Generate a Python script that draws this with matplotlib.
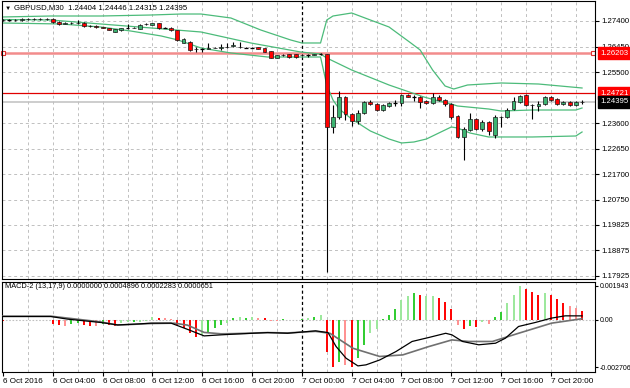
import numpy as np
import matplotlib.pyplot as plt

plt.rcParams['font.family'] = ['Liberation Sans', 'DejaVu Sans']

# GBPUSD M30, 6-7 Oct 2016 (bar 0 = 6 Oct 00:00)
opens = [1.27437, 1.27426, 1.27426, 1.27437, 1.27456, 1.27474, 1.27482, 1.27474, 1.27463, 1.27363,
         1.27289, 1.27326, 1.27318, 1.27344, 1.27214, 1.27203, 1.27177, 1.27140, 1.27009, 1.27047,
         1.27158, 1.27140, 1.27103, 1.27270, 1.27251, 1.27307, 1.27140, 1.27158, 1.27047, 1.26600,
         1.26637, 1.26340, 1.26340, 1.26358, 1.26396, 1.26414, 1.26433, 1.26470, 1.26433, 1.26414,
         1.26414, 1.26433, 1.26377, 1.26284, 1.26024, 1.26117, 1.26154, 1.26154, 1.26117, 1.26135,
         1.26135, 1.26154, 1.26161, 1.23457, 1.23829, 1.24573, 1.23940, 1.23680, 1.23978, 1.24387,
         1.24312, 1.24089, 1.24238, 1.24350, 1.24350, 1.24647, 1.24573, 1.24573, 1.24424, 1.24350,
         1.24573, 1.24461, 1.24312, 1.23866, 1.23085, 1.23345, 1.23754, 1.23382, 1.23643, 1.23159,
         1.23829, 1.23829, 1.24126, 1.24387, 1.24647, 1.24275, 1.24238, 1.24312, 1.24573, 1.24498,
         1.24312, 1.24387, 1.24275, 1.24404]
highs = [1.27474, 1.27456, 1.27474, 1.27512, 1.27512, 1.27530, 1.27512, 1.27512, 1.27493, 1.27400,
         1.27363, 1.27363, 1.27437, 1.27363, 1.27251, 1.27233, 1.27195, 1.27158, 1.27103, 1.27140,
         1.27289, 1.27177, 1.27270, 1.27344, 1.27326, 1.27344, 1.27177, 1.27195, 1.27065, 1.26749,
         1.26656, 1.26451, 1.26396, 1.26582, 1.26433, 1.26526, 1.26563, 1.26619, 1.26637, 1.26451,
         1.26451, 1.26451, 1.26396, 1.26302, 1.26135, 1.26154, 1.26172, 1.26172, 1.26154, 1.26172,
         1.26172, 1.26191, 1.26172, 1.24275, 1.24796, 1.24610, 1.23978, 1.24089, 1.24424, 1.24461,
         1.24350, 1.24312, 1.24387, 1.24461, 1.24684, 1.24684, 1.24647, 1.24610, 1.24461, 1.24722,
         1.24647, 1.24498, 1.24350, 1.23903, 1.23457, 1.23978, 1.23792, 1.23717, 1.23680, 1.23903,
         1.23866, 1.24164, 1.24573, 1.24647, 1.24684, 1.24312, 1.24424, 1.24610, 1.24610, 1.24536,
         1.24424, 1.24424, 1.24424, 1.24446]
lows = [1.27400, 1.27400, 1.27400, 1.27400, 1.27437, 1.27437, 1.27437, 1.27437, 1.27326, 1.27251,
        1.27270, 1.27289, 1.27289, 1.27195, 1.27177, 1.27158, 1.27121, 1.27047, 1.26991, 1.27028,
        1.27103, 1.27121, 1.27084, 1.27233, 1.27233, 1.27103, 1.27121, 1.27028, 1.26656, 1.26582,
        1.26302, 1.26265, 1.26265, 1.26340, 1.26377, 1.26321, 1.26396, 1.26451, 1.26414, 1.26396,
        1.26396, 1.26340, 1.26247, 1.26005, 1.26005, 1.26098, 1.26042, 1.26042, 1.26098, 1.26079,
        1.26117, 1.26135, 1.18063, 1.23234, 1.23754, 1.23717, 1.23494, 1.23568, 1.23940, 1.24275,
        1.24052, 1.24052, 1.24201, 1.24238, 1.24238, 1.24573, 1.24424, 1.24164, 1.24312, 1.24312,
        1.24424, 1.24238, 1.23754, 1.23048, 1.22229, 1.23308, 1.23345, 1.23308, 1.23159, 1.23048,
        1.23457, 1.23792, 1.24089, 1.24350, 1.24238, 1.23754, 1.24052, 1.24275, 1.24424, 1.24275,
        1.24290, 1.24238, 1.24238, 1.24315]
closes = [1.27426, 1.27426, 1.27437, 1.27456, 1.27474, 1.27482, 1.27474, 1.27463, 1.27363, 1.27289,
          1.27326, 1.27318, 1.27344, 1.27214, 1.27203, 1.27177, 1.27140, 1.27065, 1.27084, 1.27121,
          1.27158, 1.27158, 1.27233, 1.27289, 1.27307, 1.27140, 1.27147, 1.27047, 1.26675, 1.26712,
          1.26321, 1.26358, 1.26340, 1.26396, 1.26414, 1.26433, 1.26451, 1.26507, 1.26451, 1.26414,
          1.26414, 1.26358, 1.26265, 1.26024, 1.26117, 1.26135, 1.26061, 1.26061, 1.26135, 1.26135,
          1.26154, 1.26161, 1.23457, 1.23829, 1.24573, 1.23940, 1.23680, 1.23978, 1.24387, 1.24312,
          1.24089, 1.24275, 1.24350, 1.24350, 1.24647, 1.24573, 1.24573, 1.24387, 1.24350, 1.24573,
          1.24461, 1.24312, 1.23829, 1.23085, 1.23382, 1.23754, 1.23382, 1.23643, 1.23308, 1.23829,
          1.23840, 1.24089, 1.24424, 1.24610, 1.24275, 1.24290, 1.24312, 1.24573, 1.24461, 1.24312,
          1.24387, 1.24275, 1.24387, 1.24395]

# Bollinger bands, read at sample bars
upper_bar = [-0.2, 7.7, 15.7, 23.8, 28.6, 31.8, 36.6, 41.4, 46.2, 48, 51, 52, 53, 56, 62, 65.5, 67,
             69, 71, 72.4, 74.6, 80, 86, 93]
upper_val = [1.27549, 1.27586, 1.27586, 1.27623, 1.27660, 1.27660, 1.27512, 1.27065, 1.26694,
             1.26582, 1.26582, 1.27437, 1.27586, 1.27698, 1.27177, 1.26582, 1.26321, 1.25577,
             1.24982, 1.24870, 1.25019, 1.25094, 1.25056, 1.24908]
mid_bar = [-0.2, 7.7, 15.7, 23.8, 31.8, 39.8, 47.8, 51, 52, 56, 62, 67.6, 70, 72, 73, 78, 80, 85, 92, 93]
mid_val = [1.27456, 1.27437, 1.27289, 1.27140, 1.26991, 1.26582, 1.26247, 1.26172, 1.26024, 1.25577,
           1.25019, 1.24573, 1.24424, 1.24312, 1.24238, 1.24126, 1.24052, 1.24089, 1.24089, 1.24164]
lower_bar = [-0.2, 9.3, 15.7, 20.5, 25.4, 28.1, 31.8, 36.6, 42.5, 51, 52, 53, 54, 56, 59, 62, 64, 66,
             68, 70, 72, 73, 75, 78, 85, 92, 93]
lower_val = [1.27326, 1.27289, 1.27177, 1.27028, 1.26843, 1.26694, 1.26396, 1.26210, 1.26061,
             1.26061, 1.25019, 1.24461, 1.24126, 1.23754, 1.23308, 1.23010, 1.22862, 1.22899,
             1.23010, 1.23234, 1.23457, 1.23420, 1.23234, 1.23085, 1.23085, 1.23122, 1.23271]

alert_level = 1.26203
hline_level = 1.24721
bid = 1.24395
price_ticks = [1.27400, 1.26450, 1.25500, 1.23600, 1.22650, 1.21700, 1.20750, 1.19825, 1.18875, 1.17925]

# MACD-2 (13,17,9)
hist = [-0.00004, -0.00003, 0.00001, -0.00002, 0.00002, 0.00002, -0.00001, 0.00001, -0.00025, -0.00029,
        -0.00034, -0.00023, -0.00019, -0.00029, -0.00038, -0.00038, -0.00023, -0.00029, -0.00038, -0.00019,
        -0.00015, -0.0001, -0.0001, -0.00004, 0.00019, 0.0001, 0.0001, 0.00003, -0.00029, -0.00048,
        -0.00077, -0.00096, -0.00086, -0.00067, -0.00048, -0.00029, -0.00019, 0.0001, 0.00015, 0.0001,
        0.00015, 0.00013, 0.0001, -0.00005, -0.00004, 0.00004, -0.00003, -0.00002, 0.00003, 0.0001,
        0.00019, 0.00029, -0.00182, -0.00268, -0.00239, -0.00258, -0.00268, -0.0022, -0.00143, -0.00077,
        -0.00054, 0.00004, 0.00029, 0.00063, 0.00115, 0.00138, 0.00153, 0.00143, 0.00138, 0.00134,
        0.00124, 0.00105, 0.00061, -0.00029, -0.00054, -0.00038, -0.00042, -0.00015, -0.00025, 0.00015,
        0.00044, 0.00096, 0.00143, 0.00194, 0.00176, 0.00157, 0.00143, 0.00153, 0.00143, 0.00119,
        0.00099, 0.0008, 0.00067, 0.00049]
# buffer each histogram bar belongs to: g/l = up buffers, r/p = down buffers
hist_buf = ("rrlpggplrr" "pggrrpgrrl" "lglllrpprr" "rrlggglglg" "lprppgprgl"
            "glrrgprggl" "lgggllgrll" "rrrprgrlpg" "glllrrrlrr" "rppr")
fast_bar = [-0.3, 7.7, 10.4, 15.7, 18.4, 21, 23.8, 27, 29.6, 32.3, 35, 37.1, 42.5, 45.7, 50.2,
            52.2, 53.5, 55.1, 57, 58.3, 60.5, 63.1, 65.7, 68.4, 71.1, 72.1, 73.8, 76.4, 79.1, 80.7,
            82.8, 85.5, 88.1, 90.3, 93]
fast_val = [0.00019, 0.00019, 0.00004, -0.00015, -0.00029, -0.00025, -0.00019, -0.00019, -0.00054,
            -0.00092, -0.00086, -0.00082, -0.00073, -0.00077, -0.00063,
            -0.00073, -0.00153, -0.0022, -0.00264, -0.00258, -0.0023, -0.00182, -0.00124, -0.00101,
            -0.00077, -0.00086, -0.00124, -0.00143, -0.00134, -0.00105, -0.00038, -0.00015, 0.0001,
            0.00023, 0.000228]
slow_bar = [-0.3, 7.7, 10.4, 15.7, 18.4, 23.8, 27.5, 29.6, 32.3, 35, 37.1, 42.5, 45.7, 50.2,
            52.5, 56.2, 60.5, 64.2, 68.4, 72.1, 74.8, 78.6, 82.8, 88.1, 93]
slow_val = [0.00021, 0.00021, 0.0001, -0.00012, -0.0003, -0.00021, -0.00019, -0.0003, -0.00072,
            -0.0008, -0.00079, -0.00073, -0.00075, -0.00066,
            -0.00077, -0.00163, -0.0021, -0.00201, -0.00153, -0.00115, -0.00124, -0.00124, -0.00077,
            -0.00019, 0.000065]
macd_ticks = [0.001943, 0.0, -0.002706]
macd_tick_labels = ['0.001943', '0.00', '-0.002706']

time_ticks = list(range(0, 96, 8))
time_labels = ['6 Oct 2016', '6 Oct 04:00', '6 Oct 08:00', '6 Oct 12:00', '6 Oct 16:00', '6 Oct 20:00',
               '7 Oct 00:00', '7 Oct 04:00', '7 Oct 08:00', '7 Oct 12:00', '7 Oct 16:00', '7 Oct 20:00']

# layout in pixels of a 630x388 picture
W, H = 630.0, 388.0


def rect(left, top, right, bottom):
    return [left / W, 1 - bottom / H, (right - left) / W, (bottom - top) / H]


fig = plt.figure(figsize=(6.3, 3.88), dpi=100)
ax = fig.add_axes(rect(2, 1, 595, 279))
ax2 = fig.add_axes(rect(2, 282, 595, 372), sharex=ax)

fs = 5.6
grid_kw = dict(color='#C0C0C0', lw=0.7, ls=(0, (3, 3)), zorder=0)

# grids
for b in range(4, 96, 4):
    if b == 48:
        continue
    ax.axvline(b, **grid_kw)
    ax2.axvline(b, **grid_kw)
for v in price_ticks:
    ax.axhline(v, **grid_kw)
ax2.axhline(0, color='#C0C0C0', lw=0.8, ls=(0, (1.5, 1.5)), zorder=0)

# day separator
for a in (ax, ax2):
    a.axvline(48, color='black', lw=0.9, ls=(0, (2.5, 2)), zorder=1)

# horizontal levels
ax.axhline(bid, color='#C0C0C0', lw=1.1, zorder=1)
ax.axhline(hline_level, color='#E00000', lw=0.9, zorder=1)
ax.axhline(alert_level, color='#F28C8C', lw=1.8, zorder=1)
ax.plot([0.05, 94.7], [alert_level, alert_level], ls='none', marker='s', ms=3.2,
        mfc='white', mec='#E03030', mew=0.8, zorder=2, clip_on=False)

# bollinger bands
band_col = '#4CBB7A'
ax.plot(upper_bar, upper_val, color=band_col, lw=0.9, zorder=2)
ax.plot(mid_bar, mid_val, color=band_col, lw=0.9, zorder=2)
ax.plot(lower_bar, lower_val, color=band_col, lw=0.9, zorder=2)

# candles
o = np.array(opens)
h = np.array(highs)
l = np.array(lows)
c = np.array(closes)
x = np.arange(len(o))
bw = 0.62
ax.vlines(x, l, h, color='black', lw=0.8, zorder=3)
body = np.abs(c - o)
doji = body < 0.00008
up = (c > o) & ~doji
dn = (c < o) & ~doji
ax.bar(x[up], body[up], bottom=o[up], width=bw, color='#3CB371', edgecolor='#1a1a1a', lw=0.5, zorder=4)
ax.bar(x[dn], body[dn], bottom=c[dn], width=bw, color='#FF0000', edgecolor='#1a1a1a', lw=0.5, zorder=4)
ax.hlines(c[doji], x[doji] - bw / 2, x[doji] + bw / 2, color='black', lw=0.9, zorder=4)

ax.set_xlim(-0.16, 95.08)
ax.set_ylim(1.17802, 1.28144)
ax.yaxis.tick_right()
ax.set_yticks(price_ticks)
ax.set_yticklabels(['%.5f' % v for v in price_ticks])
ax.tick_params(axis='y', direction='out', length=3, width=0.8, labelsize=fs, pad=1.5)
ax.tick_params(axis='x', bottom=False, labelbottom=False)

# price tags on the right scale
for val, fc in [(alert_level, '#FF0000'), (hline_level, '#FF0000'), (bid, '#000000')]:
    ax.text(1.0085, val, '%.5f' % val, transform=ax.get_yaxis_transform(), color='white',
            fontsize=fs, va='center', ha='left', clip_on=False, zorder=10,
            bbox=dict(boxstyle='square,pad=0.32', fc=fc, ec=fc))

# MACD histogram and lines
hist_cols = {'g': '#2ECC2E', 'l': '#9BE89B', 'r': '#FF0000', 'p': '#FF8F8F'}
ax2.vlines(x, 0, hist, colors=[hist_cols[k] for k in hist_buf], lw=1.4, zorder=2)
ax2.plot(slow_bar, slow_val, color='#707070', lw=1.2, zorder=3)
ax2.plot(fast_bar, fast_val, color='black', lw=0.9, zorder=4)
ax2.set_ylim(-0.00299, 0.00217)
ax2.yaxis.tick_right()
ax2.set_yticks(macd_ticks)
ax2.set_yticklabels(macd_tick_labels)
ax2.tick_params(axis='y', direction='out', length=2.5, width=0.8, labelsize=5.0, pad=1)
ax2.set_xticks(time_ticks)
ax2.set_xticklabels(time_labels)
for t in ax2.get_xticklabels():
    t.set_ha('left')
ax2.tick_params(axis='x', direction='out', length=3, width=0.8, labelsize=fs + 0.3, pad=1.5)

for a in (ax, ax2):
    for s in a.spines.values():
        s.set_color('black')
        s.set_linewidth(0.8)

# titles inside the panels
fig.text(5 / W, 1 - 8 / H, '\u25bc', fontsize=4.5, va='center', ha='left')
fig.text(14 / W, 1 - 8 / H, 'GBPUSD,M30  1.24404 1.24446 1.24315 1.24395', fontsize=fs,
         va='center', ha='left')
fig.text(5 / W, 1 - 287 / H, 'MACD-2 (13,17,9) 0.0000000 0.0004896 0.0002283 0.0000651',
         fontsize=fs - 0.3, va='center', ha='left')

fig.savefig('out.png', dpi=100)
